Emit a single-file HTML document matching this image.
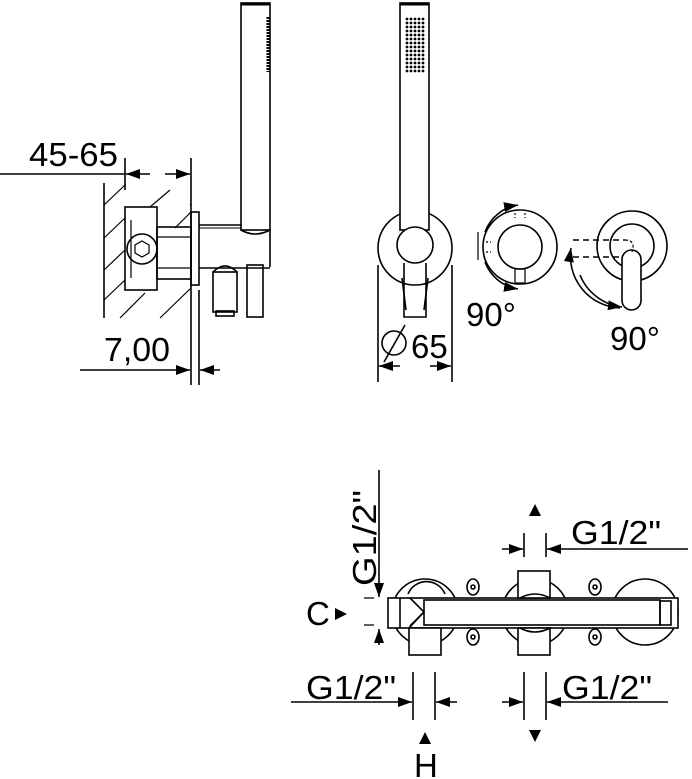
<!DOCTYPE html>
<html><head><style>
html,body{margin:0;padding:0;background:#fff;}
svg{display:block;}
text{font-family:"Liberation Sans",sans-serif;fill:#000;}
</style></head><body>
<svg width="692" height="779" viewBox="0 0 692 779" xmlns="http://www.w3.org/2000/svg">
<defs>
<marker id="a" viewBox="0 0 14 10" refX="14" refY="5" markerWidth="14" markerHeight="10" orient="auto-start-reverse" markerUnits="userSpaceOnUse"><path d="M0,0L14,5L0,10z"/></marker>
<pattern id="dots" x="405" y="17" width="4" height="4" patternUnits="userSpaceOnUse"><circle cx="2" cy="2" r="1.4" fill="#000"/></pattern>
</defs>
<g fill="none" stroke="#000" stroke-width="1.6">
<!-- LEFT SIDE VIEW -->
<rect x="241" y="3" width="29" height="227"/>
<line x1="241" y1="4" x2="270" y2="4" stroke-width="3"/>
<line x1="268" y1="17" x2="268" y2="72" stroke-width="3" stroke-dasharray="2 1"/>
<path d="M241,230 Q255,238 270,230 L270,267"/>
<line x1="104" y1="183" x2="104" y2="318"/>
<line x1="125" y1="158" x2="125" y2="190"/>
<line x1="191" y1="158" x2="191" y2="385"/>
<line x1="199" y1="290" x2="199" y2="385"/>
<line x1="0" y1="174" x2="125" y2="174"/>
<line x1="150" y1="174" x2="126" y2="174" marker-end="url(#a)"/>
<line x1="165" y1="174" x2="190" y2="174" marker-end="url(#a)"/>
<path d="M104,205 L125,185 M104,238 L125,218 M104,270 L125,250 M104,300 L125,280 M120,318 L145,293 M150,207 L170,190 M160,318 L191,288 M175,228 L191,212 M190,205 L191,204" stroke-width="1.2"/>
<rect x="125" y="207" width="32" height="83"/>
<circle cx="142" cy="249" r="15"/>
<polygon points="142,241 149,245 149,253 142,257 135,253 135,245" stroke-width="1.2"/>
<line x1="131" y1="220" x2="131" y2="278" stroke-width="1.2"/>
<rect x="157" y="227" width="34" height="52"/>
<line x1="157" y1="237" x2="191" y2="237" stroke-width="1.2"/>
<line x1="157" y1="268" x2="191" y2="268" stroke-width="1.2"/>
<rect x="191" y="212" width="8" height="73"/>
<line x1="199" y1="225" x2="241" y2="225"/>
<line x1="199" y1="228" x2="241" y2="228" stroke-width="1"/>
<line x1="199" y1="268" x2="270" y2="268"/>
<rect x="213" y="272" width="24" height="40"/>
<rect x="216" y="311" width="18" height="5"/>
<path d="M213,272 Q225,260 237,272"/>
<rect x="247" y="265" width="16" height="52"/>
<line x1="80" y1="370" x2="190" y2="370" marker-end="url(#a)"/>
<line x1="220" y1="370" x2="200" y2="370" marker-end="url(#a)"/>

<!-- MIDDLE FRONT VIEW -->
<circle cx="415" cy="248" r="37"/>
<rect x="400" y="3" width="29" height="227" fill="#fff"/>
<line x1="400" y1="4" x2="429" y2="4" stroke-width="3"/>
<rect x="405" y="17" width="20" height="56" fill="url(#dots)" stroke="none"/>
<circle cx="415" cy="245" r="18" fill="#fff"/>
<path d="M404,263 L404,317 L426,317 L426,263"/>
<path d="M402,278 L406,310 M428,278 L424,310"/>
<line x1="378" y1="265" x2="378" y2="382"/>
<line x1="452" y1="265" x2="452" y2="382"/>
<line x1="400" y1="366" x2="379" y2="366" marker-end="url(#a)"/>
<line x1="430" y1="366" x2="451" y2="366" marker-end="url(#a)"/>
<circle cx="394" cy="343" r="12"/>
<line x1="384" y1="362" x2="405" y2="325"/>

<!-- KNOB VIEW 3 -->
<circle cx="520" cy="247" r="37"/>
<circle cx="520" cy="247" r="22"/>
<rect x="515" y="269" width="10" height="14" stroke-width="1.2"/>
<path d="M515,213 L515,218 M525,213 L525,218 M486,242 L491,242 M486,252 L491,252" stroke-dasharray="2 2" stroke-width="1.2"/>
<path d="M485,232 A42,42 0 0 1 518,205" marker-end="url(#a)"/>
<path d="M485,262 A42,42 0 0 0 518,289" marker-end="url(#a)"/>
<path d="M478,232 L478,260" stroke-width="1.2"/>
<!-- KNOB VIEW 4 -->
<circle cx="632" cy="246" r="35"/>
<circle cx="632" cy="246" r="22"/>
<rect x="622" y="250" width="19" height="60" rx="9.5" fill="#fff"/>
<path d="M573,240 L625,240 M573,257 L622,257" stroke-dasharray="6 4"/>
<path d="M625,240 Q636,240 632,252" stroke-dasharray="3 2" stroke-width="1.2"/>
<path d="M620,308 A52,52 0 0 1 571,248" marker-end="url(#a)"/>
<path d="M580,275 A52,52 0 0 0 622,307" marker-end="url(#a)"/>

<!-- BOTTOM VIEW -->
<circle cx="425" cy="612" r="33"/>
<circle cx="535" cy="612" r="33"/>
<circle cx="645" cy="612" r="33"/>
<path d="M408,594 A20,20 0 0 1 445,594"/>
<ellipse cx="473" cy="587" rx="6" ry="8" fill="#fff"/><circle cx="473" cy="587" r="2"/>
<ellipse cx="473" cy="637" rx="6" ry="8" fill="#fff"/><circle cx="473" cy="637" r="2"/>
<ellipse cx="595" cy="587" rx="6" ry="8" fill="#fff"/><circle cx="595" cy="587" r="2"/>
<ellipse cx="595" cy="637" rx="6" ry="8" fill="#fff"/><circle cx="595" cy="637" r="2"/>
<rect x="388" y="598" width="290" height="30" fill="#fff"/>
<rect x="424" y="600" width="236" height="25"/>
<rect x="660" y="601" width="11" height="24"/>
<path d="M410,598 L424,612 L410,626 M400,598 L400,628"/>
<rect x="409" y="628" width="32" height="27" fill="#fff"/>
<path d="M409,628 L424,612"/>
<rect x="518" y="571" width="32" height="27" fill="#fff"/>
<rect x="518" y="628" width="32" height="27" fill="#fff"/>
<path d="M520,598 Q535,590 550,598 M520,628 Q535,636 550,628"/>
<line x1="379" y1="470" x2="379" y2="597" marker-end="url(#a)"/>
<line x1="379" y1="645" x2="379" y2="629" marker-end="url(#a)"/>
<path d="M364,598 L374,598 M364,625 L374,625" stroke-width="1.2"/>
<line x1="524" y1="533" x2="524" y2="557"/>
<line x1="546" y1="533" x2="546" y2="557"/>
<line x1="502" y1="549" x2="523" y2="549" marker-end="url(#a)"/>
<line x1="688" y1="549" x2="547" y2="549" marker-end="url(#a)"/>
<line x1="413" y1="672" x2="413" y2="720"/>
<line x1="435" y1="672" x2="435" y2="720"/>
<line x1="291" y1="702" x2="412" y2="702" marker-end="url(#a)"/>
<line x1="457" y1="702" x2="436" y2="702" marker-end="url(#a)"/>
<line x1="524" y1="672" x2="524" y2="720"/>
<line x1="546" y1="672" x2="546" y2="720"/>
<line x1="502" y1="702" x2="523" y2="702" marker-end="url(#a)"/>
<line x1="668" y1="702" x2="547" y2="702" marker-end="url(#a)"/>
</g>
<g stroke="none" fill="#000">
<polygon points="535,504 529,516 541,516"/>
<polygon points="419,744 431,744 425,732"/>
<polygon points="529,730 541,730 535,742"/>
<polygon points="335,608 347,614 335,620"/>
</g>
<g font-size="33">
<text x="29" y="166" textLength="89" lengthAdjust="spacingAndGlyphs">45-65</text>
<text x="104" y="361" textLength="66" lengthAdjust="spacingAndGlyphs">7,00</text>
<text x="411" y="358">65</text>
<text x="466" y="326">90°</text>
<text x="610" y="350">90°</text>
<text x="571" y="544" textLength="90" lengthAdjust="spacingAndGlyphs">G1/2"</text>
<text x="306" y="699" textLength="90" lengthAdjust="spacingAndGlyphs">G1/2"</text>
<text x="562" y="699" textLength="90" lengthAdjust="spacingAndGlyphs">G1/2"</text>
<text x="306" y="625">C</text>
<text x="414" y="777">H</text>
<text transform="translate(376,586) rotate(-90)" textLength="96" lengthAdjust="spacingAndGlyphs">G1/2"</text>
</g>
</svg>
</body></html>
